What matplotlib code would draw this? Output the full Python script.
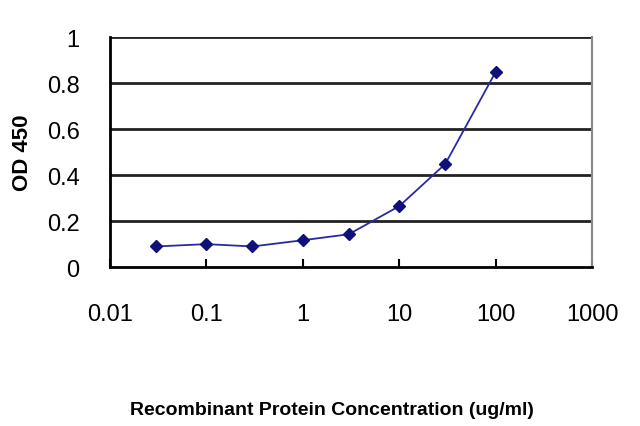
import matplotlib
matplotlib.use('Agg')
from matplotlib import pyplot as plt

# Concentration (ug/ml) and OD 450 readings
conc = [0.03, 0.1, 0.3, 1, 3, 10, 30, 100]
od450 = [0.09, 0.10, 0.09, 0.117, 0.143, 0.265, 0.448, 0.848]

x_ticks = [0.01, 0.1, 1, 10, 100, 1000]
x_tick_labels = ['0.01', '0.1', '1', '10', '100', '1000']
y_ticks = [0, 0.2, 0.4, 0.6, 0.8, 1]
y_tick_labels = ['0', '0.2', '0.4', '0.6', '0.8', '1']

plt.rcParams['font.family'] = ['Liberation Sans', 'DejaVu Sans']

fig = plt.figure(figsize=(6.4, 4.27), dpi=100)
ax = fig.add_axes([0.172, 0.372, 0.753, 0.539])

# gridlines
for y in y_ticks[1:]:
    ax.axhline(y, color='#222222', lw=2, zorder=1)

ax.plot(conc, od450, color='#2a2aa0', lw=1.3, marker='D', ms=6.5,
        markerfacecolor='#10107a', markeredgecolor='#10107a', zorder=3)

ax.set_xscale('log')
ax.set_xlim(0.01, 1000)
ax.set_ylim(0, 1)
ax.set_xticks(x_ticks)
ax.set_xticklabels(x_tick_labels, fontsize=17)
ax.minorticks_off()
ax.set_yticks(y_ticks)
ax.set_yticklabels(y_tick_labels, fontsize=17)
ax.tick_params(axis='x', direction='in', length=6, width=1.5, pad=26)
ax.tick_params(axis='y', length=0, pad=22)

ax.spines['left'].set_color('black')
ax.spines['left'].set_linewidth(2)
ax.spines['bottom'].set_color('black')
ax.spines['bottom'].set_linewidth(2)
ax.spines['top'].set_visible(False)
ax.spines['right'].set_color('#888888')
ax.spines['right'].set_linewidth(1.5)

ax.set_ylabel('OD 450', fontsize=16, fontweight='bold', labelpad=10)
ax.set_xlabel('Recombinant Protein Concentration (ug/ml)', fontsize=14,
              fontweight='bold')
ax.xaxis.set_label_coords(0.46, -0.58)

fig.savefig('out.png', dpi=100)
